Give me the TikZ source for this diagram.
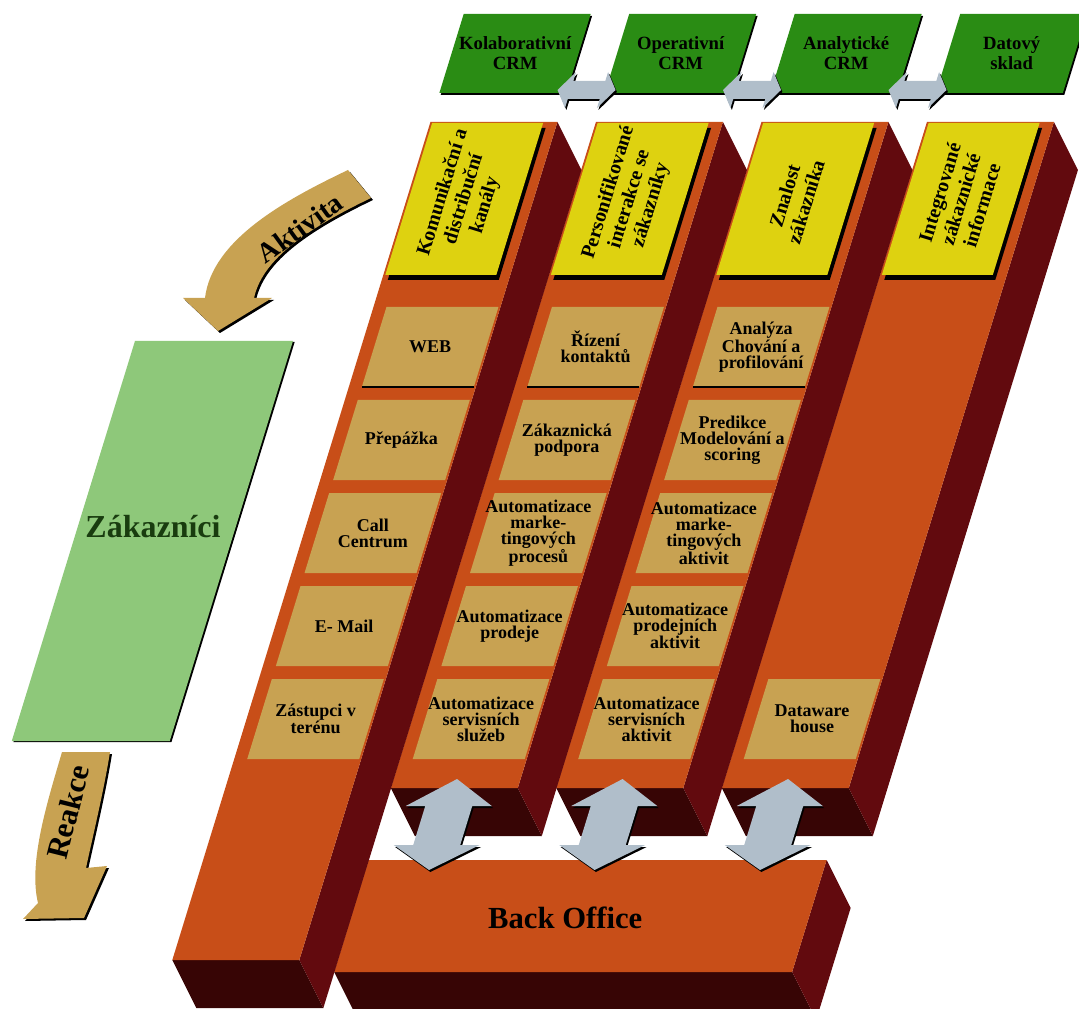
\documentclass[tikz,border=0pt]{standalone}
\usepackage{fontspec}
\setmainfont{Liberation Serif}
\definecolor{orng}{RGB}{200,78,24}
\definecolor{sidered}{RGB}{98,10,14}
\definecolor{botdark}{RGB}{55,5,5}
\definecolor{tanc}{RGB}{200,162,82}
\definecolor{yel}{RGB}{222,210,16}
\definecolor{grn}{RGB}{42,140,20}
\definecolor{lgrn}{RGB}{142,200,122}
\definecolor{gryc}{RGB}{176,190,202}
\definecolor{dgrn}{RGB}{25,60,15}
\begin{document}
\begin{tikzpicture}[x=0.75pt,y=-0.75pt,
  celltxt/.style={font=\bfseries\fontsize{13.5}{12}\selectfont,align=center,inner sep=0pt},
  yeltxt/.style={font=\bfseries\fontsize{15}{16.5}\selectfont,align=center,inner sep=0pt,rotate=73},
  grntxt/.style={font=\bfseries\fontsize{14}{15}\selectfont,align=center,inner sep=0pt},
  bigtxt/.style={font=\bfseries\fontsize{23}{26}\selectfont,inner sep=0pt}]
\useasboundingbox (0,0) rectangle (1079,1009);
\clip (0,0) rectangle (1079,1009);

\begin{scope}[xslant=0.308]
  % CRM boxes on top
  \foreach \i/\t in {0/{Kolaborativní\\CRM},1/{Operativní\\CRM},2/{Analytické\\CRM},3/{Datový\\sklad}}{
    \pgfmathsetmacro\colu{468+165.5*\i}
    \fill[black] (\colu+2,16) rectangle (\colu+129,95);
    \fill[grn] (\colu,14) rectangle (\colu+127,93);
    \node[grntxt] (top\i) at (\colu+63.5,53) {\t};
  }
  \foreach \i in {0,1,2}{
    \pgfmathsetmacro\ac{468+165.5*\i+146.25}
    \foreach \sh/\col in {2/black,0/gryc}
      \fill[\col,shift={(\sh,\sh)}] (\ac-29,90) -- (\ac-16,72) -- (\ac-16,81) -- (\ac+16,81) -- (\ac+16,72) -- (\ac+29,90)
        -- (\ac+16,108) -- (\ac+16,99) -- (\ac-16,99) -- (\ac-16,108) -- cycle;
  }

  \fill[black] (242,342) rectangle (400,742);
  \fill[lgrn] (240,341) rectangle (398,741);

  % back office
  \fill[botdark] (633.5,972) -- (1091.5,972) -- (1130.3,1020) -- (672.3,1020) -- cycle;
  \fill[sidered] (1091.5,860) -- (1130.3,908) -- (1130.3,1020) -- (1091.5,972) -- cycle;
  \fill[orng] (633.5,860) rectangle (1091.5,972);
  \node[bigtxt] (back) at (848,918) {Back Office};

  % columns, right one first
  \foreach \i/\yb in {3/788,2/788,1/788,0/960}{
    \pgfmathsetmacro\colu{468+165.5*\i}
    \fill[botdark] (\colu,\yb) -- (\colu+127,\yb) -- (\colu+165.8,\yb+48) -- (\colu+38.8,\yb+48) -- cycle;
    \fill[sidered] (\colu+127,122) -- (\colu+165.8,170) -- (\colu+165.8,\yb+48) -- (\colu+127,\yb) -- cycle;
    \fill[orng] (\colu,122) rectangle (\colu+127,\yb);
    \fill[black] (\colu+6,128) rectangle (\colu+117,280);
    \fill[yel] (\colu+2,123) rectangle (\colu+113,275);
  }
  \foreach \i/\t in {0/{Komunikační a\\distribuční\\kanály},1/{Personifikované\\interakce se\\zákazníky},
      2/{Znalost\\zákazníka},3/{Integrované\\zákaznické\\informace}}{
    \pgfmathsetmacro\colu{468+165.5*\i}
    \node[yeltxt] (yel\i) at (\colu+57.5,199) {\t};
  }
  \foreach \i/\k/\t in {0/0/WEB,0/1/Přepážka,0/2/{Call\\Centrum},0/3/{E- Mail},0/4/{Zástupci v\\terénu},
      1/0/{Řízení\\kontaktů},1/1/{Zákaznická\\podpora},1/2/{Automatizace\\marke-\\tingových\\procesů},
      1/3/{Automatizace\\prodeje},1/4/{Automatizace\\servisních\\služeb},
      2/0/{Analýza\\Chování a\\profilování},2/1/{Predikce\\Modelování a\\scoring},
      2/2/{Automatizace\\marke-\\tingových\\aktivit},2/3/{Automatizace\\prodejních\\aktivit},
      2/4/{Automatizace\\servisních\\aktivit},3/4/{Dataware\\house}}{
    \pgfmathsetmacro\colu{468+165.5*\i}
    \pgfmathsetmacro\rowt{307+93*\k}
    \fill[tanc] (\colu+13,\rowt) rectangle (\colu+125,\rowt+80);
    \node[celltxt] (cell\i\k) at (\colu+69,\rowt+40) {\t};
  }
  \foreach \i in {0,1,2}{
    \pgfmathsetmacro\colu{468+165.5*\i}
    \draw[line width=1pt] (\colu+13,387) -- (\colu+125,387);
  }

  % arrows to back office
  \foreach \i in {1,2,3}{
    \pgfmathsetmacro\ac{468+165.5*\i+63.5}
    \foreach \sh/\col in {2/black,0/gryc}
      \fill[\col,shift={(\sh,\sh)}] (\ac,779) -- (\ac+43,806) -- (\ac+23.5,806) -- (\ac+23.5,845) -- (\ac+43,845) -- (\ac,870)
        -- (\ac-43,845) -- (\ac-23.5,845) -- (\ac-23.5,806) -- (\ac-43,806) -- cycle;
  }
\end{scope}

\node[bigtxt,text=dgrn,font=\bfseries\fontsize{24}{26}\selectfont] (zak) at (153,527) {Zákazníci};

\foreach \sh/\col in {2/black,0/tanc}
  \fill[\col,shift={(\sh,\sh)}] (348,170) .. controls (285,200) and (212,240) .. (205,298) -- (183,298) -- (218,331)
    -- (272,298) -- (254,298) .. controls (262,262) and (300,232) .. (371,198) -- cycle;
\node[bigtxt,rotate=36,font=\bfseries\fontsize{21}{24}\selectfont] (akt) at (300,228) {Aktivita};

\foreach \sh/\col in {2/black,0/tanc}
  \fill[\col,shift={(\sh,\sh)}] (62,752) -- (110,752) .. controls (104,790) and (92,840) .. (86,868) -- (107,866)
    -- (84,918) -- (23,919) -- (38,903) .. controls (28,862) and (48,800) .. (62,752) -- cycle;
\node[bigtxt,rotate=76] (reak) at (68,812) {Reakce};
\end{tikzpicture}
\end{document}
